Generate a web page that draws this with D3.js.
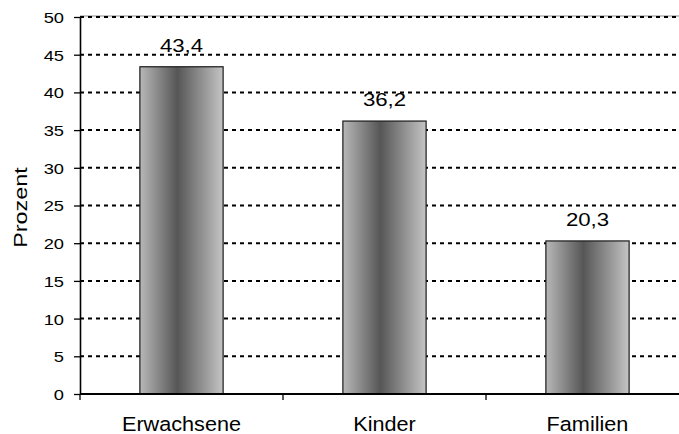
<!DOCTYPE html>
<html>
<head>
<meta charset="utf-8">
<script src="https://cdn.jsdelivr.net/npm/d3@7"></script>
<style>
  html, body { margin: 0; padding: 0; background: #fff; }
  svg { display: block; font-family: "Liberation Sans", Arial, sans-serif; }
</style>
</head>
<body>
<svg id="chart" width="679" height="434"></svg>
<script>
const categories = ["Erwachsene", "Kinder", "Familien"];
const values = [43.4, 36.2, 20.3];
const valueLabels = ["43,4", "36,2", "20,3"];
const yTicks = [0, 5, 10, 15, 20, 25, 30, 35, 40, 45, 50];
const yTitle = "Prozent";

(function () {
const svg = d3.select("#chart");
const mLeft = 80, mTop = 17, mRight = 689, mBottom = 394;

const y = d3.scaleLinear().domain([0, 50]).range([mBottom, mTop]);
const xCat = d3.scaleBand().domain(categories).range([mLeft, mRight]).padding(0);
const xBar = d3.scaleBand().domain(categories).range([mLeft, mRight])
  .paddingInner(0.59).paddingOuter(0.295);

// gradient
const defs = svg.append("defs");
const grad = defs.append("linearGradient").attr("id", "barGrad")
  .attr("x1", "0%").attr("x2", "100%").attr("y1", "0%").attr("y2", "0%");
grad.append("stop").attr("offset", "0%").attr("stop-color", "#b8b8b8");
grad.append("stop").attr("offset", "45%").attr("stop-color", "#565656");
grad.append("stop").attr("offset", "100%").attr("stop-color", "#c4c4c4");

// top border
svg.append("line").attr("x1", mLeft).attr("x2", mRight)
  .attr("y1", mTop - 1).attr("y2", mTop - 1)
  .attr("stroke", "#8c8c8c").attr("stroke-width", 1.2);

// gridlines
svg.append("g").selectAll("line").data(yTicks.filter(d => d > 0)).join("line")
  .attr("x1", mLeft).attr("x2", mRight)
  .attr("y1", d => y(d)).attr("y2", d => y(d))
  .attr("stroke", "#000").attr("stroke-width", 2)
  .attr("stroke-dasharray", "4,4");

// bars
svg.append("g").selectAll("rect").data(values).join("rect")
  .attr("x", (d, i) => xBar(categories[i]))
  .attr("width", xBar.bandwidth())
  .attr("y", d => y(d))
  .attr("height", d => y(0) - y(d))
  .attr("fill", "url(#barGrad)")
  .attr("stroke", "#1a1a1a").attr("stroke-width", 1.2);

// y axis
const yAxis = d3.axisLeft(y).tickValues(yTicks).tickSize(6).tickSizeOuter(0).tickPadding(10);
const gy = svg.append("g").attr("transform", `translate(${mLeft},0)`).call(yAxis);
gy.select(".domain").attr("stroke", "#000").attr("stroke-width", 1.6);
gy.selectAll(".tick line").attr("stroke", "#000").attr("stroke-width", 1.3);
gy.selectAll(".tick text")
  .attr("font-size", 15).attr("fill", "#000")
  .attr("font-family", "'Liberation Sans', Arial, sans-serif")
  .attr("dy", "0.36em")
  .each(function () {
    const t = d3.select(this);
    const xx = +t.attr("x");
    t.attr("x", null).attr("transform", `translate(${xx},0) scale(1.22,1)`);
  });

// x axis
const boundaries = categories.map(c => xCat(c)).concat([mRight]);
svg.append("line").attr("x1", mLeft).attr("x2", mRight)
  .attr("y1", mBottom).attr("y2", mBottom)
  .attr("stroke", "#000").attr("stroke-width", 1.8);
svg.append("g").selectAll("line").data(boundaries).join("line")
  .attr("x1", d => d).attr("x2", d => d)
  .attr("y1", mBottom).attr("y2", mBottom + 6)
  .attr("stroke", "#000").attr("stroke-width", 1.3);

// x labels
svg.append("g").selectAll("text").data(categories).join("text")
  .attr("transform", d => `translate(${xCat(d) + xCat.bandwidth() / 2},431) scale(1.11,1)`)
  .attr("text-anchor", "middle")
  .attr("font-size", 19.5).attr("fill", "#000")
  .text(d => d);

// value labels
svg.append("g").selectAll("text").data(values).join("text")
  .attr("transform", (d, i) => `translate(${xBar(categories[i]) + xBar.bandwidth() / 2},${y(d) - 15}) scale(1.2,1)`)
  .attr("text-anchor", "middle")
  .attr("font-size", 18.5).attr("fill", "#000")
  .text((d, i) => valueLabels[i]);

// y title
svg.append("text")
  .attr("transform", `translate(27,${(mTop + mBottom) / 2 + 2}) rotate(-90) scale(1.3,1)`)
  .attr("text-anchor", "middle")
  .attr("font-size", 18).attr("fill", "#000")
  .text(yTitle);
})();
</script>
</body>
</html>
